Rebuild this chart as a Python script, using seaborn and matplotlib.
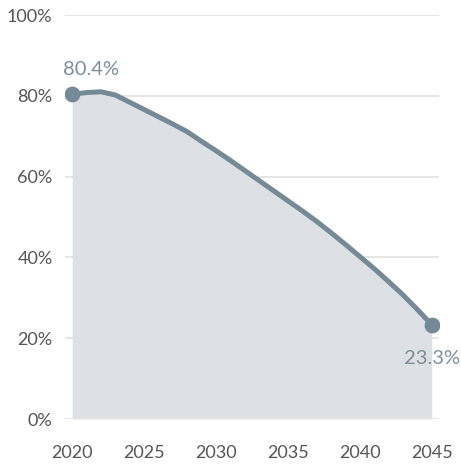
import matplotlib
matplotlib.use("Agg")
import matplotlib.pyplot as plt
import seaborn as sns
import pandas as pd

years = list(range(2020, 2046))
values = [80.4, 80.8, 81.0, 80.2, 78.4, 76.6, 74.8, 73.0, 71.1, 68.7,
          66.4, 64.0, 61.5, 59.0, 56.5, 54.0, 51.5, 48.9, 46.1, 43.2,
          40.2, 37.2, 34.0, 30.7, 27.1, 23.3]
y_ticks = [0, 20, 40, 60, 80, 100]
y_tick_labels = ["0%", "20%", "40%", "60%", "80%", "100%"]
x_ticks = [2020, 2025, 2030, 2035, 2040, 2045]

df = pd.DataFrame({"year": years, "value": values})
ends = df.iloc[[0, -1]]

sns.set_theme(style="white")
plt.rcParams["font.family"] = ["Lato", "DejaVu Sans"]

line_color = "#768a95"
fill_color = "#dde1e6"
text_color = "#555555"
label_color = "#7b8f9b"

fig = plt.figure(figsize=(4.61, 4.66), dpi=100)
ax = fig.add_axes([65 / 461, (466 - 419) / 466, (439 - 65) / 461, (419 - 15) / 466])

ax.fill_between(df["year"], df["value"], 0, color=fill_color, linewidth=0, zorder=1)
for t in y_ticks:
    ax.axhline(t, color="#e4e4e4", linewidth=1.3, zorder=0.5 if t else 2)
sns.lineplot(data=df, x="year", y="value", color=line_color, linewidth=3.6,
             ax=ax, zorder=3, solid_capstyle="round")
sns.scatterplot(data=ends, x="year", y="value", color=line_color, s=130,
                linewidth=0, ax=ax, zorder=4)

ax.set_xlim(2019.5, 2045.5)
ax.set_ylim(0, 100)
ax.set_xticks(x_ticks)
ax.set_xticklabels([str(x) for x in x_ticks])
ax.set_yticks(y_ticks)
ax.set_yticklabels(y_tick_labels)
ax.tick_params(axis="x", length=0, pad=19, labelsize=13, labelcolor=text_color)
ax.tick_params(axis="y", length=0, pad=9, labelsize=13, labelcolor=text_color)
ax.set_xlabel("")
ax.set_ylabel("")
for s in ax.spines.values():
    s.set_visible(False)
ax.grid(False)

first = ends.iloc[0]
last = ends.iloc[1]
ax.annotate(f"{first['value']:.1f}%", (first["year"], first["value"]),
            xytext=(13.5, 18), textcoords="offset points", ha="center", va="center",
            color=label_color, fontsize=14.5, annotation_clip=False)
ax.annotate(f"{last['value']:.1f}%", (last["year"], last["value"]),
            xytext=(0.5, -24), textcoords="offset points", ha="center", va="center",
            color=label_color, fontsize=14.5, annotation_clip=False, zorder=5)

fig.savefig("out.png", dpi=100)
